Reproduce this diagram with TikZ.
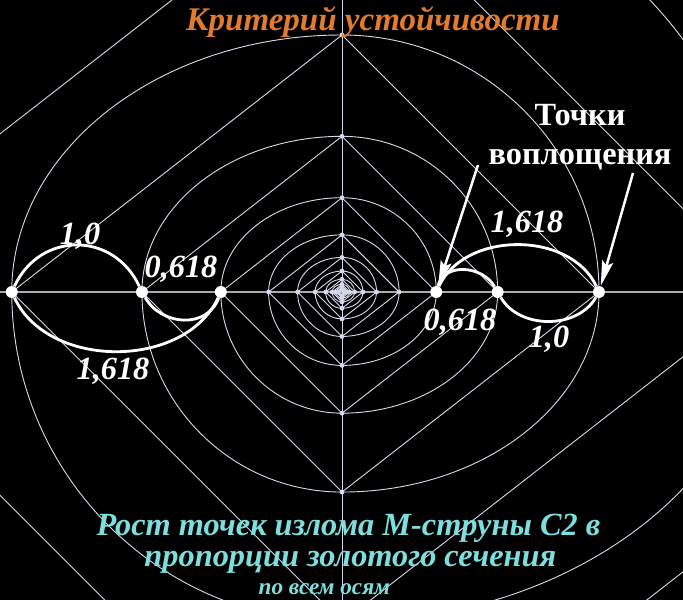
\documentclass[tikz,border=0pt]{standalone}
\usepackage{fontspec}
\setmainfont{Liberation Serif}
\usetikzlibrary{arrows.meta}

\definecolor{grid_gray}{RGB}{212,216,235}
\definecolor{axis_gray}{RGB}{170,170,175}
\definecolor{title_orange}{RGB}{226,124,44}
\definecolor{caption_cyan}{RGB}{125,222,222}

\begin{document}
\begin{tikzpicture}

	\tikzstyle{grid_line}=[draw=grid_gray, line width=0.65pt]
	\tikzstyle{axis_line}=[draw=axis_gray, line width=1.4pt]
	\tikzstyle{small_dot}=[circle, fill=grid_gray, inner sep=0pt, minimum size=1.2mm]
	\tikzstyle{big_dot}=[circle, fill=white, inner sep=0pt, minimum size=3mm]
	\tikzstyle{string_arc}=[draw=white, line width=2pt]
	\tikzstyle{ratio_label}=[text=white, font=\fontsize{23}{26}\selectfont\bfseries\itshape]
	\tikzstyle{caption_text}=[text=caption_cyan, inner sep=0pt, font=\fontsize{23}{27}\selectfont\bfseries\itshape]
	\tikzstyle{pointer_arrow}=[draw=white, line width=1.8pt, -{Stealth[length=18pt, width=8pt, inset=3pt]}]

	% Background
	\useasboundingbox[fill=black] (-8.55, -7.7) rectangle (8.525, 7.3);

	% Axes
	\draw[axis_line] (-8.55, 0) -- (8.525, 0);
	\draw[grid_line] (0, -7.7) -- (0, 7.3);

	% Spiral of arcs and broken lines, one turn per step
	\begin{scope}
		\clip (-8.55, -7.7) rectangle (8.525, 7.3);
		\foreach \k in {-3,...,7} {
			\pgfmathsetmacro{\ra}{6.425*1.651^(\k-6)}
			\pgfmathsetmacro{\rb}{\ra*1.285}
			\pgfmathsetmacro{\rn}{\ra*1.651}
			\draw[grid_line] (\ra, 0) arc[start angle=0, end angle=90, radius=\ra];
			\draw[grid_line] (0, \ra) arc[start angle=90, end angle=180, x radius=\rb, y radius=\ra];
			\draw[grid_line] (-\rb, 0) arc[start angle=180, end angle=270, radius=\rb];
			\draw[grid_line] (0, -\rb) arc[start angle=270, end angle=360, x radius=\rn, y radius=\rb];
			\draw[grid_line] (\ra, 0) -- (0, \ra) -- (-\rb, 0) -- (0, -\rb) -- (\rn, 0);
			\node[small_dot] at (\ra, 0) (dr\k) {};
			\node[small_dot] at (0, \ra) (dt\k) {};
			\node[small_dot] at (-\rb, 0) (dl\k) {};
			\node[small_dot] at (0, -\rb) (db\k) {};
		}
	\end{scope}

	%Main nodes
	\node[big_dot] at (-8.256, 0) (left_outer) {};
	\node[big_dot] at (-5.001, 0) (left_middle) {};
	\node[big_dot] at (-3.029, 0) (left_inner) {};
	\node[big_dot] at (2.357, 0) (right_inner) {};
	\node[big_dot] at (3.892, 0) (right_middle) {};
	\node[big_dot] at (6.425, 0) (right_outer) {};

	% Text nodes
	\node[text=title_orange, font=\fontsize{23.5}{27}\selectfont\bfseries\itshape] at (0.775, 6.75) (title) {Критерий устойчивости};
	\node[align=center, text=white, font=\fontsize{23}{28}\selectfont\bfseries] at (5.95, 3.875) (embodiment) {Точки\\воплощения};

	\node[ratio_label] at (-6.55, 1.4) (left_one) {1,0};
	\node[ratio_label] at (-4.025, 0.575) (left_minor) {0,618};
	\node[ratio_label] at (-5.725, -1.975) (left_major) {1,618};
	\node[ratio_label] at (4.625, 1.7) (right_major) {1,618};
	\node[ratio_label] at (2.95, -0.75) (right_minor) {0,618};
	\node[ratio_label] at (5.175, -1.175) (right_one) {1,0};

	\node[caption_text] at (0.16, -5.9) (caption_first) {Рост точек излома М-струны С2 в};
	\node[caption_text] at (0.21, -6.76) (caption_second) {пропорции золотого сечения};
	\node[caption_text, font=\fontsize{16.5}{19}\selectfont\bfseries\itshape] at (-0.44, -7.43) (caption_third) {по всем осям};

	% Connections
	\draw[string_arc] (left_outer) to[out=65, in=115, looseness=1.25] (left_middle);
	\draw[string_arc] (left_middle) to[out=-60, in=-110, looseness=1.15] (left_inner);
	\draw[string_arc] (left_outer) to[out=-65, in=-115] (left_inner);

	\draw[string_arc] (right_inner) to[out=75, in=120, looseness=1.1] (right_middle);
	\draw[string_arc] (right_inner) to[out=65, in=115] (right_outer);
	\draw[string_arc] (right_middle) to[out=-60, in=-120] (right_outer);

	\coordinate (arrow_start_left) at (3.4, 3.175);
	\coordinate (arrow_start_right) at (7.275, 2.975);
	\draw[pointer_arrow] (arrow_start_left) -- (right_inner);
	\draw[pointer_arrow] (arrow_start_right) -- (right_outer);

\end{tikzpicture}
\end{document}
